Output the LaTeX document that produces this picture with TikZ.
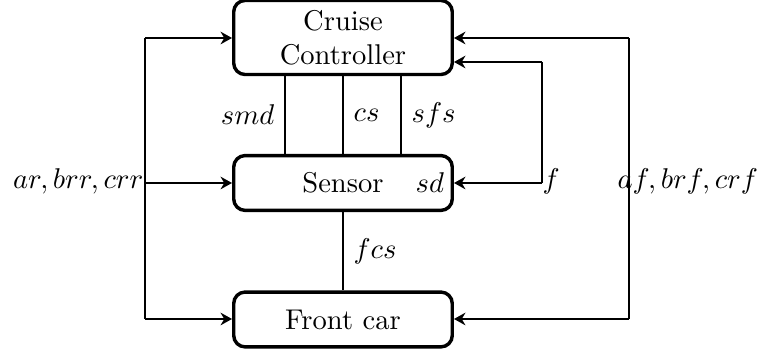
\documentclass[tikz,border=0pt]{standalone}
\usetikzlibrary{arrows.meta}
\tikzset{
  block/.style={draw, line width=1.2pt, rounded corners=4pt, align=center,
    minimum width=76.5pt, minimum height=19.2pt, inner sep=3.33pt},
  link/.style={line width=0.8pt},
  feed/.style={line width=0.8pt, -{Stealth[length=4pt,width=4.4pt,inset=1.3pt]}},
}
\begin{document}
\begin{tikzpicture}[x=0.35pt, y=-0.35pt]
  \useasboundingbox (0,0) rectangle (763,359);

  % the three blocks
  \node[block] (cc) at (343,37.5) {Cruise\\Controller};
  \node[block] (sensor) at (343,183) {Sensor};
  \node[block] (front) at (343,319.5) {Front car};
  \node[left] (sd) at (sensor.east) {$sd$};

  % links between the blocks
  \coordinate (x1) at (285,0);
  \coordinate (x2) at (343,0);
  \coordinate (x3) at (401,0);
  \draw[link] (cc.south -| x1) -- node[left] (smd) {$smd$} (sensor.north -| x1);
  \draw[link] (cc.south -| x2) -- node[right] (cs) {$cs$} (sensor.north -| x2);
  \draw[link] (cc.south -| x3) -- node[right] (sfs) {$sfs$} (sensor.north -| x3);
  \draw[link] (sensor.south) -- node[right] (fcs) {$fcs$} (front.north);

  % left input bus
  \coordinate (la) at (145,38);
  \coordinate (lb) at (145,183);
  \coordinate (lc) at (145,319);
  \draw[link] (la) -- (lc);
  \draw[feed] (la) -- (la -| cc.west);
  \draw[feed] (lb) -- (lb -| sensor.west);
  \draw[feed] (lc) -- (lc -| front.west);
  \node[anchor=base east, inner sep=0pt] (arl) at (144,189) {$ar,brr,crr$};

  % feedback f
  \coordinate (fa) at (542,62);
  \coordinate (fb) at (542,183);
  \draw[link] (fa) -- (fb);
  \draw[feed] (fa) -- (fa -| cc.east);
  \draw[feed] (fb) -- (fb -| sensor.east);
  \node[anchor=base west, inner sep=0pt] (fl) at (542,189) {$f$};

  % right input bus
  \coordinate (ra) at (629,38);
  \coordinate (rc) at (629,319);
  \draw[link] (ra) -- (rc);
  \draw[feed] (ra) -- (ra -| cc.east);
  \draw[feed] (rc) -- (rc -| front.east);
  \node[anchor=base west, inner sep=0pt] (afl) at (617,189) {$af,brf,crf$};
\end{tikzpicture}
\end{document}
